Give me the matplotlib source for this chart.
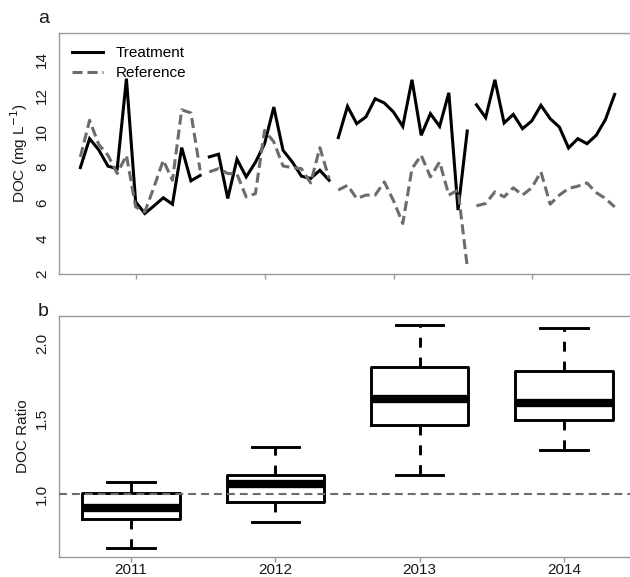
import numpy as np
import matplotlib
matplotlib.use("Agg")
import matplotlib.pyplot as plt
from matplotlib.lines import Line2D

plt.rcParams['font.family'] = ['Liberation Sans', 'DejaVu Sans']

# ---------------- data ----------------
years = ["2011", "2012", "2013", "2014"]

treat_2011 = [7.96, 9.58, 8.95, 8.04, 7.90, 12.94, 6.04, 5.39, 5.82, 6.27, 5.91, 9.08, 7.22, 7.52]
ref_2011   = [8.56, 10.61, 9.25, 8.65, 7.63, 8.65, 5.76, 5.48, 6.88, 8.37, 7.25, 11.20, 11.02, 7.81]

treat_2012 = [8.56, 8.71, 6.23, 8.43, 7.44, 8.25, 9.30, 11.35, 8.93, 8.28, 7.48, 7.35, 7.81, 7.25]
ref_2012   = [7.72, 7.90, 7.63, 7.60, 6.32, 6.50, 10.05, 9.40, 8.05, 7.96, 7.90, 7.10, 9.08, 7.35]

treat_2013 = [9.64, 11.39, 10.42, 10.80, 11.82, 11.58, 11.07, 10.27, 12.88, 9.77, 10.98, 10.27, 12.15, 5.58, 10.01]
ref_2013   = [6.70, 6.97, 6.23, 6.42, 6.42, 7.16, 6.10, 4.83, 7.90, 8.65, 7.44, 8.28, 6.42, 6.70, 2.41]

treat_2014 = [11.48, 10.76, 12.88, 10.46, 10.94, 10.14, 10.57, 11.45, 10.70, 10.23, 9.06, 9.58, 9.30, 9.77, 10.65, 12.06]
ref_2014   = [5.82, 5.95, 6.60, 6.32, 6.83, 6.42, 6.83, 7.72, 5.91, 6.42, 6.79, 6.92, 7.10, 6.56, 6.23, 5.76]

treatment = [treat_2011, treat_2012, treat_2013, treat_2014]
reference = [ref_2011, ref_2012, ref_2013, ref_2014]

# DOC ratio box statistics per year
ratio_whislo = [0.645, 0.816, 1.125, 1.29]
ratio_q1     = [0.835, 0.947, 1.46, 1.49]
ratio_med    = [0.911, 1.067, 1.628, 1.602]
ratio_q3     = [1.01, 1.125, 1.84, 1.816]
ratio_whishi = [1.08, 1.316, 2.12, 2.10]

# ---------------- layout ----------------
W, H = 630, 577
fig = plt.figure(figsize=(W / 100, H / 100), dpi=100)

def rect(l, t, r, b):
    return [l / W, 1 - b / H, (r - l) / W, (b - t) / H]

axa = fig.add_axes(rect(59, 33, 636, 274))
axb = fig.add_axes(rect(59, 316, 636, 557))

spine_col = '#9a9a9a'
ref_col = '#6c6c6c'
txt_col = '#1a1a1a'
fs = 11

for ax in (axa, axb):
    for s in ('left', 'top', 'bottom'):
        ax.spines[s].set_color(spine_col)
        ax.spines[s].set_linewidth(1.0)
    ax.spines['right'].set_visible(False)
    ax.tick_params(axis='both', colors=spine_col, labelcolor=txt_col, labelsize=fs, width=1.0)
    ax.tick_params(axis='y', length=0, pad=7)
    ax.tick_params(axis='x', length=3.5, pad=1)

# ---------------- panel a ----------------
start = 1
for tr, rf in zip(treatment, reference):
    x = np.arange(start, start + len(tr))
    axa.plot(x, tr, color='black', lw=2.2, solid_joinstyle='miter', zorder=3)
    axa.plot(x, rf, color=ref_col, lw=2.2, linestyle=(0, (3.3, 1.6)), dash_capstyle='butt', zorder=4)
    start += len(tr)
n_total = start - 1
pad = (n_total - 1) * 0.04
axa.set_xlim(1 - pad, n_total + pad)
axa.set_ylim(2, 15.5)
axa.set_yticks([2, 4, 6, 8, 10, 12, 14])
axa.set_xticks([7, 21, 35, 50])
axa.set_xticklabels([])
plt.setp(axa.get_yticklabels(), rotation=90, va='center')
axa.set_ylabel('DOC (mg L$^{-1}$)', fontsize=fs, color=txt_col)
axa.yaxis.set_label_coords(-0.05, 0.5)

handles = [Line2D([], [], color='black', lw=2.2),
           Line2D([], [], color=ref_col, lw=2.2, linestyle=(0, (3.3, 1.6)))]
axa.legend(handles, ['Treatment', 'Reference'], loc='upper left', frameon=False,
           fontsize=fs, handlelength=2.0, handletextpad=0.85, borderpad=0,
           borderaxespad=0, labelspacing=0.4,
           bbox_to_anchor=(72 / W, 1 - 46 / H), bbox_transform=fig.transFigure)

# ---------------- panel b ----------------
stats = []
for i in range(len(years)):
    stats.append(dict(label=years[i], whislo=ratio_whislo[i], q1=ratio_q1[i], med=ratio_med[i],
                      q3=ratio_q3[i], whishi=ratio_whishi[i], fliers=[]))
pos = np.arange(1, len(years) + 1)
axb.bxp(stats, positions=pos, widths=0.675, capwidths=0.33, showfliers=False,
        boxprops=dict(color='black', linewidth=2.1),
        medianprops=dict(color='black', linewidth=6, solid_capstyle='butt'),
        whiskerprops=dict(color='black', linewidth=2.1, linestyle=(0, (3.4, 3.4))),
        capprops=dict(color='black', linewidth=2.1))
axb.axhline(1.0, color=ref_col, lw=1.5, linestyle=(0, (3.8, 2.4)), zorder=5)
axb.set_xlim(0.5, len(years) + 0.5)
rng = max(ratio_whishi) - min(ratio_whislo)
axb.set_ylim(min(ratio_whislo) - 0.04 * rng, max(ratio_whishi) + 0.04 * rng)
axb.set_yticks([1.0, 1.5, 2.0])
axb.set_yticklabels(['1.0', '1.5', '2.0'])
axb.set_xticks(pos)
axb.set_xticklabels(years)
plt.setp(axb.get_yticklabels(), rotation=90, va='center')
axb.set_ylabel('DOC Ratio', fontsize=fs, color=txt_col)
axb.yaxis.set_label_coords(-0.05, 0.5)

fig.text(38 / W, 1 - 23 / H, 'a', fontsize=14, color=txt_col, ha='left', va='baseline')
fig.text(38 / W, 1 - 316.5 / H, 'b', fontsize=14, color=txt_col, ha='left', va='baseline')

fig.savefig('out.png', dpi=100)
